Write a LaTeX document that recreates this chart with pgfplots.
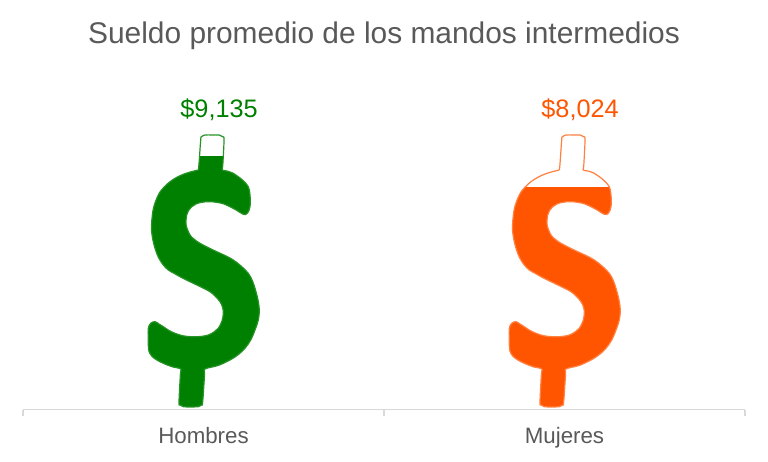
\documentclass[border=0pt]{standalone}
\usepackage{fontspec}
\setmainfont{Liberation Sans}
\usepackage{pgfplots}
\usepackage{pgfplotstable}
\pgfplotsset{compat=1.18}
\definecolor{hombres}{HTML}{008000}
\definecolor{mujeres}{HTML}{FF5500}
\definecolor{txt}{HTML}{595959}
\definecolor{axisc}{HTML}{D9D9D9}
% dollar-sign outline, in pixels of the picture
\pgfplotstableread{
x y
198.3 170
198.9 165
200.7 140
201.3 137
205 135
212 135
219.3 135
222.7 136.7
224 140
222.8 165
222.3 170
227 171
233.3 173.3
238 176.5
243 180.5
248.3 186.7
250 195
250 206.7
247.3 213.3
243.3 214.3
237 210.5
230 206.7
224 204
216.7 202.3
209 201.7
201.7 202.3
196 204
191.7 206.7
188.5 210.5
186.7 215
186 220
186.3 226
190 235
194.5 239.5
200 243.3
208 247.5
216.7 251.7
225 255.5
233.3 260
241 266
248.3 273.3
252.5 281
255.5 290
258 300
259.3 310
258.3 320
255 330
251 339.5
245 348.3
238 354.8
230 360
218 365.5
205 369
204.6 374
202.7 401.7
201.7 405
198.3 406.7
190 406.9
183.3 406.7
180 405
179 401.7
180.4 374
180.7 369
172 366.7
163.3 363.3
156.5 359.8
151.7 356
148.9 351
148.3 345
148.2 337
148.3 328.3
150.7 323.3
155 321.7
159 324
163.3 326.7
169 330.5
175 333.3
183 335.8
191.7 336.7
200.5 336.5
208.3 335
214 332
218.3 328.3
222 321
223.3 313.3
222.5 307
220 301.7
215.5 296.5
210 291.7
202 287.5
193.3 283.3
186.5 280
180 276.7
174 273.3
168.3 270
163.3 265
158.5 257.5
155 248.3
152.5 238
151.4 228
151.7 221.7
153.5 208
158.3 195
163.5 187.7
170 181.7
176.5 177.5
183.3 174.3
191 171.8
198.3 170
}\shape
\newcommand{\fz}[1]{\fontsize{#1}{#1}\selectfont}
\begin{document}
\begin{tikzpicture}[x=1pt,y=1pt]
\path[use as bounding box] (0,0) rectangle (768,461);
\begin{axis}[
  at={(23pt,51.3pt)}, anchor=south west,
  scale only axis, width=722pt, height=409.7pt,
  xmin=0, xmax=2, ymin=40, ymax=14723.6,
  clip=false,
  axis x line=bottom, axis y line=none,
  axis line style={draw=axisc, line width=1.3pt, -},
  xtick={0,1,2}, x tick label as interval,
  xticklabels={Hombres,Mujeres},
  tick align=outside,
  major tick length=6pt,
  tick style={draw=axisc, line width=1.3pt},
  tick label style={font=\fz{22.3}, text=txt, yshift=-8pt},
]
% Hombres
\addplot[draw=none, fill=hombres, smooth, tension=0.6] table[x expr=(\thisrow{x}-23)/361, y expr=(409.7-\thisrow{y})*35.84+40] {\shape};
\addplot[draw=none, fill=white] coordinates {(0.32,9135) (0.68,9135) (0.68,10100) (0.32,10100)};
\addplot[draw=hombres!85!white, line width=1.2pt, smooth, tension=0.6] table[x expr=(\thisrow{x}-23)/361, y expr=(409.7-\thisrow{y})*35.84+40] {\shape};
% Mujeres
\addplot[draw=none, fill=mujeres, smooth, tension=0.6] table[x expr=(\thisrow{x}-23)/361+1, y expr=(409.7-\thisrow{y})*35.84+40] {\shape};
\addplot[draw=none, fill=white] coordinates {(1.32,8024) (1.68,8024) (1.68,10100) (1.32,10100)};
\addplot[draw=mujeres!75!white, line width=1.2pt, smooth, tension=0.6] table[x expr=(\thisrow{x}-23)/361+1, y expr=(409.7-\thisrow{y})*35.84+40] {\shape};
\node[text=hombres, font=\fz{25.3}] at (axis cs:0.5431,10780) {\$9,135};
\node[text=mujeres, font=\fz{25.3}] at (axis cs:1.5431,10780) {\$8,024};
\node[text=txt, font=\fz{29.9}] at (axis cs:1,13430) {Sueldo promedio de los mandos intermedios};
\end{axis}
\end{tikzpicture}
\end{document}
